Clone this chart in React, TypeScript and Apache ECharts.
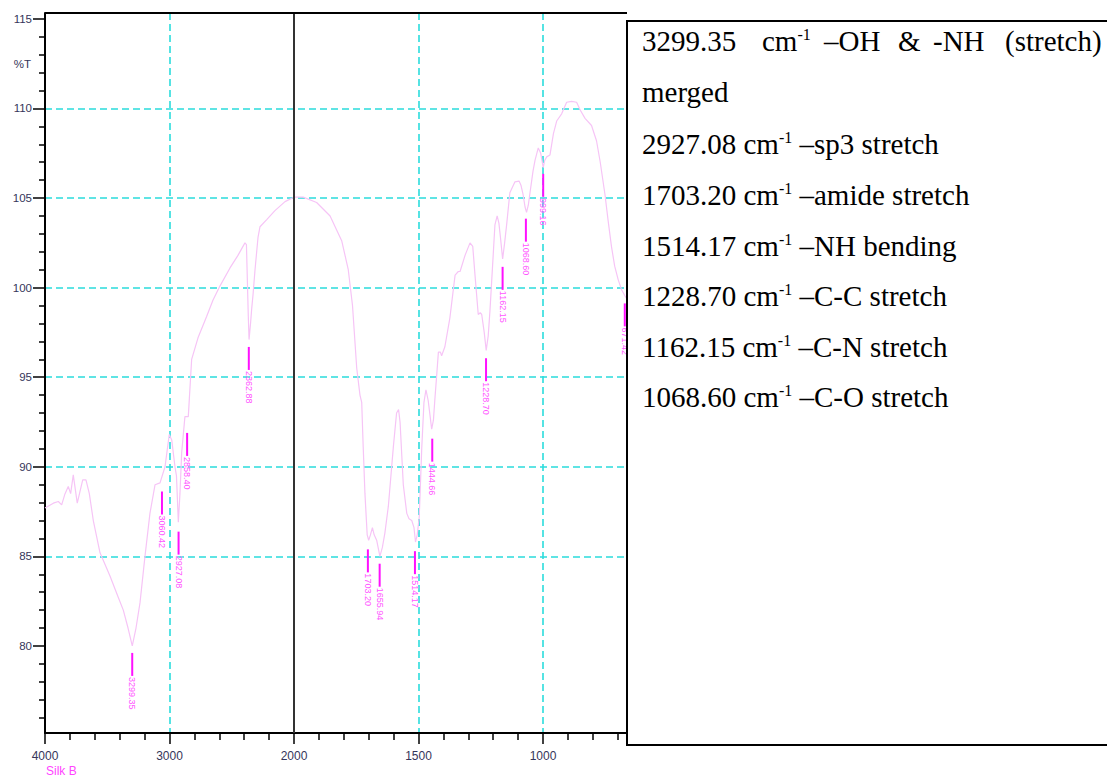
import React, { useEffect, useRef } from "react";
import * as echarts from "echarts";

// ---------- data (wavenumber in cm-1, transmittance in %T) ----------
const wavenumbers = [
  4000, 3933, 3893, 3866, 3839, 3813, 3794, 3773, 3741, 3697, 3671, 3644, 3612, 3558, 3478, 3411,
  3371, 3333, 3299, 3269, 3237, 3197, 3157, 3116, 3076, 3036, 3002, 2982, 2956, 2944, 2929, 2916,
  2902, 2876, 2849, 2822, 2771, 2701, 2651, 2594, 2514, 2450, 2394, 2382, 2367, 2361, 2349, 2340,
  2329, 2313, 2289, 2273, 2219, 2153, 2072, 2000, 1963, 1909, 1855, 1808, 1782, 1765, 1748, 1735,
  1728, 1722, 1715, 1706, 1700, 1693, 1685, 1678, 1668, 1655, 1645, 1635, 1621, 1601, 1588, 1580,
  1574, 1561, 1547, 1538, 1527, 1518, 1512, 1505, 1497, 1487, 1478, 1470, 1461, 1447, 1440, 1434,
  1428, 1420, 1412, 1407, 1394, 1374, 1353, 1340, 1333, 1313, 1293, 1282, 1273, 1260, 1252, 1246,
  1236, 1228, 1220, 1213, 1200, 1193, 1184, 1177, 1170, 1162, 1154, 1146, 1133, 1113, 1096, 1088,
  1080, 1072, 1066, 1059, 1052, 1040, 1032, 1019, 1009, 999, 993, 985, 972, 958, 945, 925,
  905, 885, 865, 850, 831, 805, 785, 770, 751, 738, 725, 712, 698, 685, 671, 660,
  640, 600, 560,
];
const transmittance = [
  87.7, 87.97, 88.06, 87.87, 88.5, 88.9, 88.5, 89.55, 87.97, 89.27, 89.27, 88.5, 87.0, 85.2, 83.9, 82.7,
  82.0, 81.0, 80.0, 81.0, 82.4, 85.0, 87.4, 89.0, 89.1, 90.0, 91.8, 91.5, 90.0, 89.5, 86.9, 88.5,
  90.8, 92.8, 92.8, 96.0, 97.2, 98.4, 99.3, 100.1, 101.1, 101.8, 102.5, 102.4, 98.4, 97.1, 98.0, 98.8,
  99.6, 101.0, 102.8, 103.4, 103.8, 104.3, 104.8, 105.05, 105.05, 104.75, 104.0, 102.6, 101.0, 99.0, 95.5, 94.0,
  93.6, 91.1, 88.5, 86.2, 85.9, 86.2, 86.6, 86.2, 85.9, 85.0, 85.5, 86.3, 87.8, 91.1, 93.0, 93.2,
  92.5, 89.0, 87.4, 87.1, 87.0, 86.6, 85.8, 86.2, 87.2, 91.0, 93.6, 94.3, 93.7, 92.1, 92.6, 93.8,
  94.9, 96.4, 96.4, 96.2, 96.7, 98.3, 100.7, 100.9, 100.9, 101.8, 102.5, 102.3, 100.7, 98.5, 98.6, 98.5,
  97.5, 96.5, 97.3, 98.7, 101.8, 103.5, 104.0, 103.6, 102.7, 101.6, 102.5, 103.5, 105.3, 105.9, 105.95, 105.7,
  105.2, 104.5, 104.2, 104.6, 105.3, 106.5, 107.1, 107.8, 107.5, 106.7, 107.1, 107.3, 107.4, 108.6, 109.3, 109.7,
  110.35, 110.4, 110.35, 109.9, 109.45, 109.05, 108.2, 107.0, 105.2, 103.7, 102.3, 101.2, 100.45, 99.9, 99.55, 99.3,
  99.0, 98.6, 98.3,
];

// picked peaks: wavenumber and %T at the top of the marker bar
const peakWavenumbers = [
  3299.35, 3060.42, 2927.08, 2858.4, 2362.88, 1703.2, 1655.94, 1514.17, 1444.66, 1228.7, 1162.15,
  1068.6, 999.16, 671.42,
];
const peakMarkerT = [
  79.61, 88.62, 86.38, 91.89, 96.69, 85.39, 84.59, 85.29, 91.57, 96.06, 101.16, 103.85, 106.35, 99.12,
];

const yMajorTicks = [80, 85, 90, 95, 100, 105, 110, 115];
const yMinorTicks = [
  76, 77, 78, 79, 81, 82, 83, 84, 86, 87, 88, 89, 91, 92, 93, 94, 96, 97, 98, 99, 101, 102, 103, 104,
  106, 107, 108, 109, 111, 112, 113, 114,
];
const xTickWavenumbers = [4000, 3000, 2000, 1500, 1000];

const sampleName = "Silk B";
const yAxisTitle = "%T";

const headerWords = ["3299.35", "cm", "–OH", "&", "-NH", "(stretch)"];
const headerContinuation = "merged";
const assignWavenumbers = ["2927.08", "1703.20", "1514.17", "1228.70", "1162.15", "1068.60"];
const assignLabels = ["sp3 stretch", "amide stretch", "NH bending", "C-C stretch", "C-N stretch", "C-O stretch"];

// ---------- x transform: scale changes at 2000 cm-1 ----------
const toD = (w: number) => (w >= 2000 ? (4000 - w) / 2 : 1000 + (2000 - w));
const fromD = (d: number) => (d <= 1000 ? 4000 - 2 * d : 3000 - d);

const CYAN = "#2bdcdc";
const AXIS_TEXT = "#35355a";

export default function App() {
  const ref = useRef<HTMLDivElement>(null);

  useEffect(() => {
    if (!ref.current) return;
    const chart = echarts.init(ref.current, undefined, { renderer: "svg" });

    const xTickD = xTickWavenumbers.map(toD);
    const lineData = wavenumbers.map((w, i) => [toD(w), transmittance[i]]);
    const peakData = peakWavenumbers.map((w, i) => [toD(w), peakMarkerT[i]]);

    const serifRich = {
      n: { fontSize: 29, fontFamily: "Liberation Serif", fill: "#000", color: "#000" },
      s: { fontSize: 16, fontFamily: "Liberation Serif", fill: "#000", color: "#000", verticalAlign: "top" },
    };
    const rowY = [41, 92, 144, 195, 246, 296, 347, 397];
    const headerX = [642, 762, 824, 898, 933, 1005];

    const graphics: any[] = [
      {
        type: "line",
        z: 100,
        shape: { x1: 45, y1: 13, x2: 627, y2: 13 },
        style: { stroke: "#000", lineWidth: 2 },
      },
      {
        type: "rect",
        z: 100,
        shape: { x: 627, y: 21, width: 540, height: 724 },
        style: { fill: "#fff", stroke: "#000", lineWidth: 2 },
      },
      {
        type: "text",
        z: 101,
        x: 31,
        y: 64,
        style: {
          text: yAxisTitle,
          align: "right",
          verticalAlign: "middle",
          fontSize: 11.5,
          fontFamily: "Liberation Sans",
          fill: AXIS_TEXT,
        },
      },
      {
        type: "text",
        z: 101,
        x: 46,
        y: 771,
        style: {
          text: sampleName,
          align: "left",
          verticalAlign: "middle",
          fontSize: 12,
          fontFamily: "Liberation Sans",
          fill: "#ff44ff",
        },
      },
    ];
    headerWords.forEach((word, i) => {
      graphics.push({
        type: "text",
        z: 101,
        x: headerX[i],
        y: rowY[0],
        style: {
          text: word === "cm" ? "{n|cm}{s|-1}" : `{n|${word}}`,
          rich: serifRich,
          align: "left",
          verticalAlign: "middle",
        },
      });
    });
    graphics.push({
      type: "text",
      z: 101,
      x: 642,
      y: rowY[1],
      style: { text: `{n|${headerContinuation}}`, rich: serifRich, align: "left", verticalAlign: "middle" },
    });
    assignWavenumbers.forEach((wn, i) => {
      graphics.push({
        type: "text",
        z: 101,
        x: 642,
        y: rowY[i + 2],
        style: {
          text: `{n|${wn} cm}{s|-1}{n| –${assignLabels[i]}}`,
          rich: serifRich,
          align: "left",
          verticalAlign: "middle",
        },
      });
    });

    const tickStyle = { color: "#000", width: 1.5 };

    chart.setOption({
      animation: false,
      backgroundColor: "#fff",
      grid: { left: 45, top: 13, right: 447, bottom: 46, containLabel: false },
      xAxis: {
        type: "value",
        min: 0,
        max: 2470,
        interval: 500,
        axisLine: { show: true, onZero: false, lineStyle: { color: "#000", width: 2 } },
        axisTick: { show: true, length: 11, lineStyle: tickStyle },
        minorTick: { show: true, splitNumber: 5, length: 7, lineStyle: tickStyle },
        axisLabel: {
          margin: 17,
          fontSize: 12,
          fontFamily: "Liberation Sans",
          color: AXIS_TEXT,
          showMaxLabel: false,
          formatter: (d: number) => (xTickD.some((t) => Math.abs(t - d) < 1e-6) ? String(fromD(d)) : ""),
        },
        splitLine: {
          show: true,
          showMinLine: false,
          showMaxLine: false,
          lineStyle: { color: CYAN, type: [7, 4], width: 1.6 },
        },
      },
      yAxis: [
        {
          type: "value",
          min: 75.14,
          max: 115.33,
          position: "left",
          axisLine: { show: true, lineStyle: { color: "#000", width: 2 } },
          axisTick: { show: true, length: 12, customValues: yMajorTicks, lineStyle: tickStyle },
          axisLabel: {
            customValues: yMajorTicks,
            margin: 13,
            fontSize: 11.5,
            fontFamily: "Liberation Sans",
            color: AXIS_TEXT,
            formatter: (v: number) => (yMajorTicks.includes(Math.round(v * 100) / 100) ? String(v) : ""),
          },
          splitLine: {
            show: true,
            showMinLine: false,
            showMaxLine: false,
            lineStyle: { color: CYAN, type: [7, 4], width: 1.6 },
          },
        },
        {
          type: "value",
          min: 75.14,
          max: 115.33,
          position: "left",
          axisLine: { show: false },
          axisTick: { show: true, length: 6, customValues: yMinorTicks, lineStyle: tickStyle },
          axisLabel: { show: false },
          splitLine: { show: false },
        },
      ],
      series: [
        {
          type: "line",
          data: lineData,
          yAxisIndex: 0,
          showSymbol: false,
          symbol: "none",
          silent: true,
          lineStyle: { color: "#f6c4f6", width: 1.2 },
          z: 3,
          markLine: {
            silent: true,
            symbol: "none",
            label: { show: false },
            lineStyle: { color: "#333", type: "solid", width: 2 },
            data: [{ xAxis: toD(2000) }],
          },
        },
        {
          type: "custom",
          yAxisIndex: 0,
          data: peakData,
          encode: { x: 0, y: 1 },
          z: 4,
          silent: true,
          renderItem: (params: any, api: any) => {
            const p = api.coord([api.value(0), api.value(1)]);
            const label = peakWavenumbers[params.dataIndex].toFixed(2);
            return {
              type: "group",
              children: [
                {
                  type: "line",
                  shape: { x1: p[0], y1: p[1], x2: p[0], y2: p[1] + 23 },
                  style: { stroke: "#ff10ff", lineWidth: 2 },
                },
                {
                  type: "text",
                  x: p[0],
                  y: p[1] + 24,
                  rotation: -Math.PI / 2,
                  style: {
                    text: label,
                    align: "left",
                    verticalAlign: "middle",
                    fontSize: 9,
                    fontFamily: "Liberation Sans",
                    fill: "#ff55ff",
                  },
                },
              ],
            };
          },
        },
      ],
      graphic: graphics,
    });

    return () => chart.dispose();
  }, []);

  return (
    <div
      ref={ref}
      style={{ position: "fixed", left: 0, top: 0, width: 1107, height: 779, background: "#fff" }}
    />
  );
}
